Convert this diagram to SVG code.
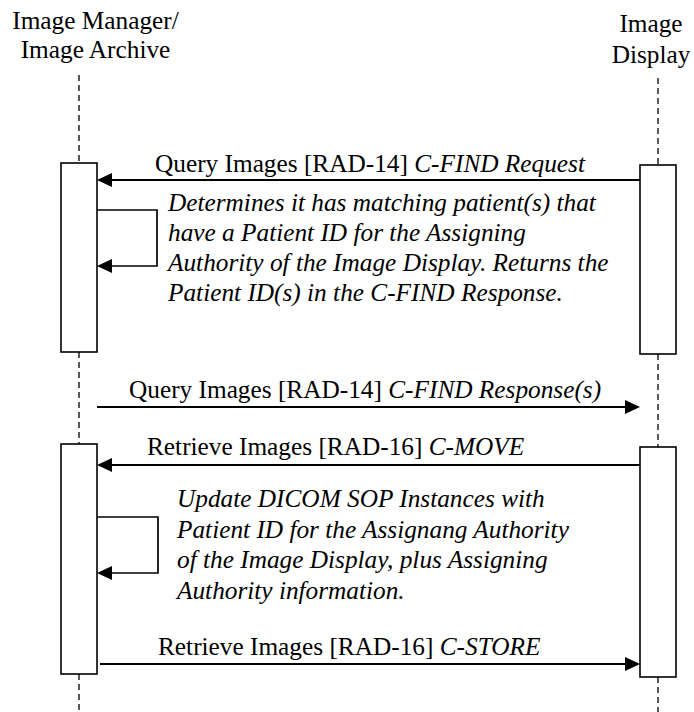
<svg xmlns="http://www.w3.org/2000/svg" width="694" height="712" viewBox="0 0 694 712" font-family="'Liberation Serif', 'Times New Roman', 'DejaVu Serif', serif">
<defs>
<marker id="ah" markerUnits="userSpaceOnUse" markerWidth="15" markerHeight="14" refX="5" refY="7" orient="auto">
<path d="M0,0 L15,7 L0,14 z" fill="#000"/>
</marker>
<style>
text{font-family:'Liberation Serif','Times New Roman','DejaVu Serif',serif;font-size:25.3px;fill:#000}
.hdr{text-anchor:middle}
.it{font-style:italic}
.life{stroke:#000;stroke-width:1.3;stroke-dasharray:6 4;fill:none}
.act{fill:#fff;stroke:#000;stroke-width:1.6}
.msg{stroke:#000;stroke-width:2.2;fill:none;marker-end:url(#ah)}
.self{stroke:#000;stroke-width:1.7;fill:none;marker-end:url(#ah)}
.bg{fill:#fff;stroke:none}
</style>
</defs>
<rect width="694" height="712" fill="#fff"/>

<g id="image-manager">
<text class="hdr" x="95.5" y="29">Image Manager/</text>
<text class="hdr" x="95.5" y="58">Image Archive</text>
<line class="life" x1="79" y1="75" x2="79" y2="163"/>
<line class="life" x1="79" y1="352" x2="79" y2="444"/>
<line class="life" x1="79" y1="674" x2="79" y2="712"/>
<rect class="act" x="61" y="163" width="36" height="189"/>
<rect class="act" x="61" y="444" width="36" height="230"/>
</g>

<g id="image-display">
<text class="hdr" x="651" y="32">Image</text>
<text class="hdr" x="651" y="63">Display</text>
<line class="life" x1="658" y1="78" x2="658" y2="165"/>
<line class="life" x1="658" y1="354" x2="658" y2="447"/>
<line class="life" x1="658" y1="677" x2="658" y2="712"/>
<rect class="act" x="640" y="165" width="36" height="189"/>
<rect class="act" x="640" y="447" width="36" height="230"/>
</g>

<g id="connectors">
<g id="msg1">
<line class="msg" x1="640" y1="180" x2="107" y2="180"/>
<rect class="bg" x="153" y="150" width="455" height="29"/>
<text x="155" y="172">Query Images [RAD-14] <tspan class="it">C-FIND Request</tspan></text>
</g>
<g id="self1">
<path class="self" d="M97,210 H157 V266 H107"/>
<text class="it" x="168" y="211">Determines it has matching patient(s) that</text>
<text class="it" x="168" y="241">have a Patient ID for the Assigning</text>
<text class="it" x="168" y="271">Authority of the Image Display. Returns the</text>
<text class="it" x="168" y="301">Patient ID(s) in the C-FIND Response.</text>
</g>
<g id="msg2">
<line class="msg" x1="97" y1="407" x2="630" y2="407"/>
<text x="129" y="398">Query Images [RAD-14] <tspan class="it">C-FIND Response(s)</tspan></text>
</g>
<g id="msg3">
<line class="msg" x1="640" y1="465" x2="107" y2="465"/>
<text x="147" y="455">Retrieve Images [RAD-16] <tspan class="it">C-MOVE</tspan></text>
</g>
<g id="self2">
<path class="self" d="M97,517 H158 V573 H107"/>
<text class="it" x="177" y="507">Update DICOM SOP Instances with</text>
<text class="it" x="177" y="537.5">Patient ID for the Assignang Authority</text>
<text class="it" x="177" y="568">of the Image Display, plus Assigning</text>
<text class="it" x="177" y="598.5">Authority information.</text>
</g>
<g id="msg4">
<line class="msg" x1="100" y1="664" x2="630" y2="664"/>
<rect class="bg" x="158" y="634" width="402" height="29"/>
<text x="158" y="655">Retrieve Images [RAD-16] <tspan class="it">C-STORE</tspan></text>
</g>
</g>
</svg>
